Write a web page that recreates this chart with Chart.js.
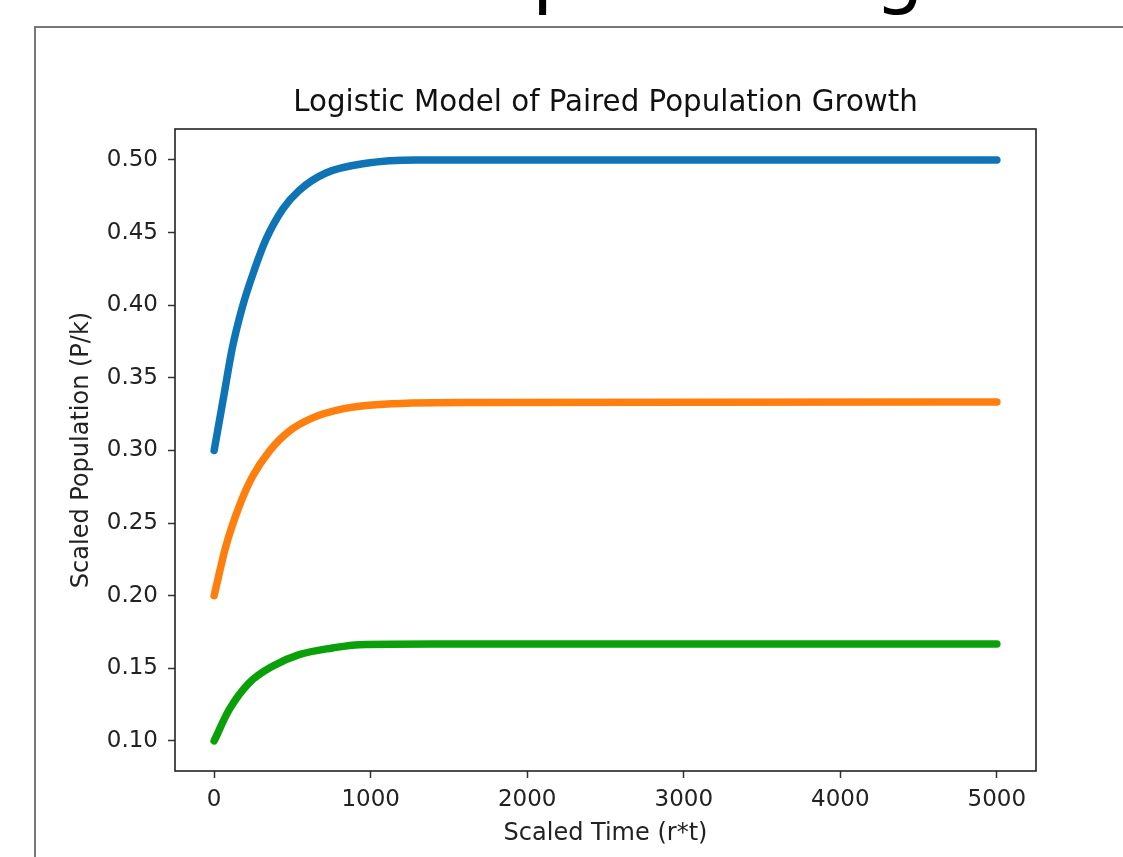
<!DOCTYPE html>
<html>
<head>
<meta charset="utf-8">
<script src="https://cdn.jsdelivr.net/npm/chart.js@4"></script>
<style>
  html, body { margin: 0; padding: 0; background: #fff; width: 1123px; height: 857px; overflow: hidden; position: relative; }
  #heading { position: absolute; left: 0; top: 0; width: 1123px; height: 26px; }
  #frame { position: absolute; left: 34px; top: 26px; width: 1200px; height: 900px; border: 2px solid #777; box-sizing: border-box; }
  #wrap { position: absolute; left: 36px; top: 28px; width: 1087px; height: 829px; }
</style>
</head>
<body>
<canvas id="heading" width="1123" height="26"></canvas>
<div id="frame"></div>
<div id="wrap"><canvas id="c" width="1087" height="829"></canvas></div>
<script>
// ---- data ----
const pageHeading = "Population growth";
const chartTitle = "Logistic Model of Paired Population Growth";
const xAxisLabel = "Scaled Time (r*t)";
const yAxisLabel = "Scaled Population (P/k)";

const xTickValues = [0, 1000, 2000, 3000, 4000, 5000];
const yTickValues = [0.10, 0.15, 0.20, 0.25, 0.30, 0.35, 0.40, 0.45, 0.50];

const blueT = [0, 64, 117, 181, 256, 330, 437, 543, 714, 970, 1290, 5000];
const blueP = [0.300, 0.339, 0.371, 0.399, 0.424, 0.445, 0.466, 0.479, 0.491, 0.4977, 0.500, 0.500];

const orangeT = [0, 75, 160, 245, 352, 479, 629, 821, 1034, 1610, 5000];
const orangeP = [0.200, 0.234, 0.2615, 0.282, 0.2994, 0.3132, 0.3224, 0.3286, 0.3315, 0.3330, 0.3333];

const greenT = [0, 96, 224, 373, 543, 756, 927, 1400, 5000];
const greenP = [0.100, 0.1215, 0.140, 0.1514, 0.1594, 0.164, 0.1663, 0.1667, 0.1667];

const seriesColors = ["#0f74b6", "#ff7f0e", "#0aa00a"];

// ---- page heading: baseline sits just above the top edge, so only descenders show ----
(function drawHeading() {
  const hc = document.getElementById('heading').getContext('2d');
  hc.font = "78px 'DejaVu Sans', sans-serif";
  hc.fillStyle = '#000';
  hc.textBaseline = 'alphabetic';
  hc.textAlign = 'left';
  hc.fillText(pageHeading, 440, -1);
})();

// ---- build chart ----
function pts(ts, ps) { return ts.map((t, i) => ({ x: t, y: ps[i] })); }

const font = "'DejaVu Sans', sans-serif";

const boxPlugin = {
  id: 'box',
  afterDraw(chart) {
    const a = chart.chartArea, ctx = chart.ctx;
    ctx.save();
    ctx.strokeStyle = '#222';
    ctx.lineWidth = 1.6;
    ctx.strokeRect(a.left, a.top, a.right - a.left, a.bottom - a.top);
    // axes title centred over the plotting area
    ctx.fillStyle = '#111';
    ctx.font = "29.3px 'DejaVu Sans', sans-serif";
    ctx.textAlign = 'center';
    ctx.textBaseline = 'middle';
    ctx.fillText(chartTitle, (a.left + a.right) / 2, a.top - 26);
    ctx.restore();
  }
};

function lineDs(ts, ps, color) {
  return {
    data: pts(ts, ps),
    borderColor: color,
    backgroundColor: color,
    borderWidth: 7.5,
    borderCapStyle: 'round',
    borderJoinStyle: 'round',
    pointRadius: 0,
    cubicInterpolationMode: 'monotone',
    fill: false
  };
}

new Chart(document.getElementById('c'), {
  type: 'line',
  data: {
    datasets: [
      lineDs(blueT, blueP, seriesColors[0]),
      lineDs(orangeT, orangeP, seriesColors[1]),
      lineDs(greenT, greenP, seriesColors[2])
    ]
  },
  options: {
    responsive: false,
    devicePixelRatio: 1,
    animation: false,
    layout: { padding: { left: 0, right: 87, top: 101, bottom: 0 } },
    plugins: {
      legend: { display: false },
      tooltip: { enabled: false },
      title: { display: false }
    },
    scales: {
      x: {
        type: 'linear',
        min: -250, max: 5250,
        afterBuildTicks: s => { s.ticks = xTickValues.map(v => ({ value: v })); },
        afterFit: s => { s.height = 86; },
        border: { display: false },
        grid: { drawOnChartArea: false, drawTicks: true, tickLength: 7, tickWidth: 1.5, tickColor: '#333' },
        ticks: { color: '#222', font: { family: font, size: 23 }, padding: 8, maxRotation: 0, callback: v => String(v) },
        title: { display: true, text: xAxisLabel, color: '#222', font: { family: font, size: 24 }, padding: { top: 0, bottom: 9 } }
      },
      y: {
        type: 'linear',
        min: 0.0793, max: 0.5213,
        afterBuildTicks: s => { s.ticks = yTickValues.map(v => ({ value: v })); },
        afterFit: s => { s.width = 139; },
        border: { display: false },
        grid: { drawOnChartArea: false, drawTicks: true, tickLength: 7, tickWidth: 1.5, tickColor: '#333' },
        ticks: { color: '#222', font: { family: font, size: 23 }, padding: 10, callback: v => Number(v).toFixed(2) },
        title: { display: true, text: yAxisLabel, color: '#222', font: { family: font, size: 24 }, padding: { top: 31.5, bottom: 0 } }
      }
    }
  },
  plugins: [boxPlugin]
});
</script>
</body>
</html>
